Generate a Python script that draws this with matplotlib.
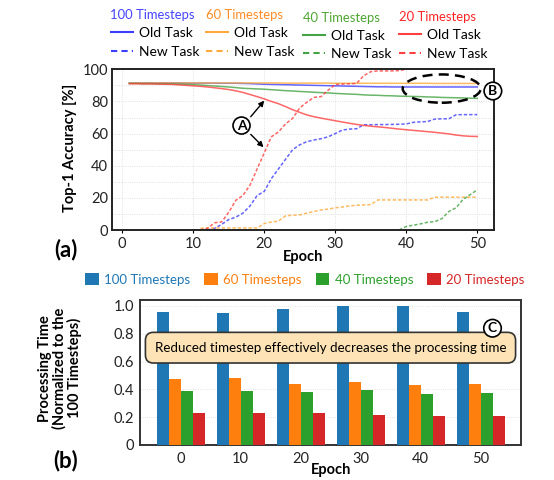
import numpy as np
import matplotlib
matplotlib.use("Agg")
import matplotlib.pyplot as plt
from matplotlib.lines import Line2D
from matplotlib.patches import Ellipse

plt.rcParams['font.family'] = ['Lato', 'DejaVu Sans']

# ---- (a) accuracy per epoch ----
epochs = list(range(1, 51))

old_100 = [91.5, 91.5, 91.5, 91.5, 91.5, 91.5, 91.5, 91.5, 91.4, 91.4,
           91.4, 91.4, 91.4, 91.3, 91.3, 91.3, 91.2, 91.1, 90.9, 90.7,
           90.6, 90.5, 90.4, 90.3, 90.2, 90.1, 90.0, 89.9, 89.8, 89.7,
           89.6, 89.5, 89.4, 89.3, 89.2, 89.1, 89.1, 89.0, 89.0, 89.0,
           89.0, 89.0, 89.0, 89.0, 89.0, 89.0, 89.0, 89.0, 89.0, 89.0]
old_60 = [91.5, 91.5, 91.5, 91.5, 91.5, 91.5, 91.5, 91.5, 91.5, 91.5,
          91.5, 91.5, 91.5, 91.5, 91.5, 91.5, 91.5, 91.5, 91.5, 91.5,
          91.5, 91.5, 91.4, 91.4, 91.4, 91.4, 91.4, 91.4, 91.4, 91.3,
          91.3, 91.3, 91.3, 91.3, 91.3, 91.3, 91.3, 91.3, 91.3, 91.3,
          91.3, 91.3, 91.3, 91.2, 91.2, 91.2, 91.2, 91.2, 91.2, 91.2]
old_40 = [91.2, 91.2, 91.1, 91.1, 91.0, 91.0, 90.9, 90.8, 90.6, 90.4,
          90.2, 89.9, 89.6, 89.3, 89.0, 88.6, 88.2, 88.0, 87.8, 87.6,
          87.3, 87.0, 86.7, 86.5, 86.2, 86.0, 85.7, 85.5, 85.3, 85.0,
          84.8, 84.6, 84.4, 84.1, 83.9, 83.8, 83.6, 83.5, 83.3, 83.2,
          83.1, 83.0, 82.8, 82.7, 82.5, 82.4, 82.3, 82.2, 82.0, 81.9]
old_20 = [91.0, 91.0, 90.9, 90.9, 90.8, 90.7, 90.6, 90.3, 90.0, 89.7,
          89.4, 89.0, 88.5, 88.0, 87.4, 86.6, 85.6, 84.3, 83.0, 81.6,
          80.0, 78.6, 76.8, 74.8, 73.2, 71.6, 70.5, 69.6, 68.8, 68.0,
          67.2, 66.4, 65.7, 65.1, 64.6, 64.2, 63.8, 63.3, 62.8, 62.4,
          62.0, 61.6, 61.2, 60.8, 60.3, 59.8, 59.1, 58.6, 58.3, 58.2]

new_100_start = 12
new_100 = [0, 1, 3.5, 6.5, 8, 10.5, 15, 21.5, 24, 32, 38, 44, 50, 53, 55,
           56, 56.8, 58, 60, 62.2, 62.8, 63, 65.5, 65.5, 65.6, 65.6, 65.7,
           65.8, 66, 67, 67.3, 67.5, 69, 69.2, 69.2, 71.7, 71.8, 71.8, 71.8]
new_60_start = 11
new_60 = [1, 1.3, 1.3, 1.3, 1.3, 1.3, 1.3, 1.3, 1.3, 4, 5, 5.5, 8.8, 9.2,
          9.4, 10.5, 11.5, 12.5, 13, 13.8, 14.3, 15, 15.4, 15.6, 15.8,
          18.7, 18.7, 18.7, 18.7, 18.7, 18.7, 18.7, 18.7,
          20.4, 20.4, 20.4, 20.4, 20.4, 20.4, 20.4]
new_40_start = 39
new_40 = [0, 2.2, 3, 3.8, 4.8, 5.2, 7, 11.5, 13.8, 19, 22, 25]
new_20_start = 11
new_20 = [0, 1, 4.5, 5, 11, 18.5, 21.5, 28, 38, 48, 58, 61, 66, 69.5, 76,
          79.5, 82.5, 83, 87, 90.5, 90.8, 91, 91.2, 96, 98.5, 99, 99, 99,
          99.2, 100]

# ---- (b) processing time ----
bar_epochs = ['0', '10', '20', '30', '40', '50']
time_100 = [0.959, 0.947, 0.976, 1.0, 1.0, 0.957]
time_60 = [0.472, 0.482, 0.439, 0.456, 0.434, 0.436]
time_40 = [0.391, 0.386, 0.381, 0.398, 0.365, 0.374]
time_20 = [0.228, 0.228, 0.228, 0.218, 0.209, 0.211]

line_cols = ['#3d3dff', '#ffaa3a', '#44a344', '#ff4040']
title_cols = ['#4444ff', '#ff8c26', '#4ea632', '#ff2424']
bar_cols = ['#1f77b4', '#ff7f0e', '#2ca02c', '#d62728']
names = ['100 Timesteps', '60 Timesteps', '40 Timesteps', '20 Timesteps']

W, H = 554, 480
fig = plt.figure(figsize=(W / 100, H / 100), dpi=100)
ax1 = fig.add_axes([112.3 / W, 1 - 230 / H, 382 / W, 160.7 / H])
ax2 = fig.add_axes([140 / W, 1 - 445 / H, 381.3 / W, 145 / H])

dash = (0, (2.2, 1.3))
olds = [old_100, old_60, old_40, old_20]
news = [(new_100_start, new_100), (new_60_start, new_60),
        (new_40_start, new_40), (new_20_start, new_20)]
for c, o, (s, n) in zip(line_cols, olds, news):
    ax1.plot(epochs, o, color=c, lw=1.1, alpha=0.8)
    ax1.plot(range(s, s + len(n)), n, color=c, lw=1.1, alpha=0.8, ls=dash)

ax1.set_xlim(-1.4, 52.4)
ax1.set_ylim(0, 100)
ax1.set_xticks([0, 10, 20, 30, 40, 50])
ax1.set_yticks([0, 20, 40, 60, 80, 100])
ax1.set_yticks([10, 30, 50, 70, 90], minor=True)
ax1.grid(True, which='both', color='#d8d8d8', lw=0.6, ls=':')
ax1.tick_params(which='minor', length=0)
ax1.tick_params(axis='y', length=0, pad=3, labelsize=10.5, labelcolor='#222222')
ax1.tick_params(axis='x', length=2, pad=3, labelsize=10.5, labelcolor='#222222')
for sp in ax1.spines.values():
    sp.set_linewidth(1.4)
    sp.set_color('#222222')
ax1.set_xlabel('Epoch', fontsize=10.5, fontweight='bold', labelpad=-1)
ax1.set_ylabel('Top-1 Accuracy [%]', fontsize=10.5, fontweight='bold')
ax1.yaxis.set_label_coords(-0.092, 0.51)

# column legends above (a)
leg_x = [110.5, 206, 303, 399]
leg_y = [9, 9, 11.5, 11]
for c, tc, name, lx, ly in zip(line_cols, title_cols, names, leg_x, leg_y):
    h = [Line2D([], [], color=c, lw=1.5),
         Line2D([], [], color=c, lw=1.5, ls=(0, (3, 2)))]
    leg = ax1.legend(h, ['Old Task', 'New Task'], title=name, loc='upper left',
                     bbox_to_anchor=(lx / W, 1 - ly / H),
                     bbox_transform=fig.transFigure, frameon=False,
                     fontsize=10, title_fontsize=9.4, handlelength=1.6,
                     handletextpad=0.45, labelspacing=0.45, borderpad=0,
                     borderaxespad=0, alignment='left')
    leg.get_title().set_color(tc)
    ax1.add_artist(leg)
ax1.legend_ = None

# annotation A
ax1.text(16.8, 65, 'A', ha='center', va='center', fontsize=10, fontweight='bold',
         bbox=dict(boxstyle='circle,pad=0.18', fc='white', ec='black', lw=1.2),
         zorder=5)
arrow = dict(arrowstyle='-|>', color='black', lw=1.0, mutation_scale=8,
             shrinkA=0, shrinkB=0)
ax1.annotate('', xy=(20, 80.5), xytext=(18.1, 70.5), arrowprops=arrow)
ax1.annotate('', xy=(19.9, 51.5), xytext=(18.1, 59.5), arrowprops=arrow)

# annotation B
ax1.add_patch(Ellipse((45.0, 88.0), 11.0, 17.6, fill=False, ec='black',
                      lw=1.8, ls=(0, (4, 2.5)), zorder=4))
ax1.text(52.2, 86.5, 'B', ha='center', va='center', fontsize=10,
         fontweight='bold', clip_on=False, zorder=6,
         bbox=dict(boxstyle='circle,pad=0.2', fc='white', ec='black', lw=1.2))

# ---- (b) bars ----
x = np.arange(len(bar_epochs))
bw = 0.2
series = [time_100, time_60, time_40, time_20]
for i, (vals, c, name) in enumerate(zip(series, bar_cols, names)):
    ax2.bar(x + (i - 1.5) * bw, vals, bw, color=c, label=name, zorder=3)

ax2.set_xlim(-0.675, 5.68)
ax2.set_ylim(0, 1.043)
ax2.set_xticks(x)
ax2.set_xticklabels(bar_epochs)
ax2.set_yticks([0, 0.2, 0.4, 0.6, 0.8, 1.0])
ax2.set_yticklabels(['0', '0.2', '0.4', '0.6', '0.8', '1.0'])
ax2.grid(True, axis='y', color='#dddddd', lw=0.6, ls=':', zorder=0)
ax2.tick_params(length=0, labelsize=10.5, labelcolor='#222222')
ax2.tick_params(axis='x', pad=5)
ax2.tick_params(axis='y', pad=4)
for sp in ax2.spines.values():
    sp.set_linewidth(1.4)
    sp.set_color('#333333')
ax2.set_xlabel('Epoch', fontsize=10.5, fontweight='bold', labelpad=-2)
ax2.set_ylabel('Processing Time\n(Normalized to the\n100 Timesteps)',
               fontsize=10.5, fontweight='bold', linespacing=1.0)
ax2.yaxis.set_label_coords(-0.152, 0.53)

fig.legend(loc='upper left', bbox_to_anchor=(85 / W, 1 - 273 / H), ncol=4,
           frameon=False, fontsize=9.5, handlelength=1.05, handleheight=1.05,
           handletextpad=0.4, columnspacing=1.05, borderpad=0,
           borderaxespad=0, labelcolor=bar_cols)

ax2.text(2.5, 0.70, 'Reduced timestep effectively decreases the processing time',
         ha='center', va='center', fontsize=9.6, zorder=6,
         bbox=dict(boxstyle='round,pad=0.7,rounding_size=0.6', fc='#fde3b6',
                   ec='#333333', lw=1.2))
ax2.text(5.2, 0.84, 'C', ha='center', va='center', fontsize=10,
         fontweight='bold', zorder=7,
         bbox=dict(boxstyle='circle,pad=0.2', fc='white', ec='black', lw=1.2))

fig.text(66 / W, 1 - 250 / H, '(a)', fontsize=16, fontweight='bold',
         ha='center', va='center')
fig.text(66 / W, 1 - 461 / H, '(b)', fontsize=16, fontweight='bold',
         ha='center', va='center')

fig.savefig('out.png', dpi=100)
